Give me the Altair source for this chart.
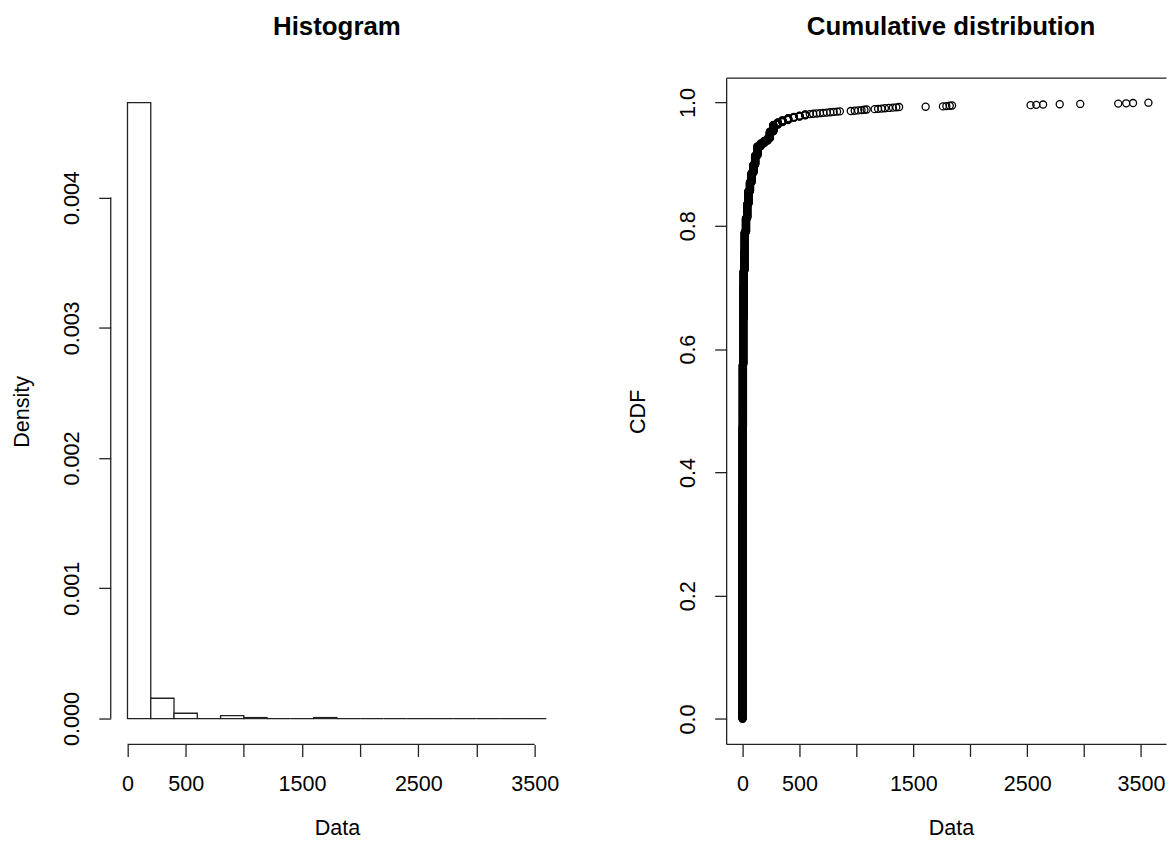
import altair as alt
import numpy as np
import pandas as pd

# ---------------- data ----------------
# Histogram: density per 200-wide bin
hist_bin_start = [0, 200, 400, 600, 800, 1000, 1200, 1400, 1600, 1800,
                  2000, 2200, 2400, 2600, 2800, 3000, 3200, 3400]
hist_density = [0.00473, 0.000156, 0.0000406, 0.0, 0.000023, 0.0000077, 0.0, 0.0,
                0.0000077, 0.0, 0.0, 0.0, 0.0, 0.0, 0.0, 0.0, 0.0, 0.0]

# Observed values and how many times each occurs (for the empirical CDF)
cdf_values = [0, 1, 2, 3, 5, 8, 11, 15, 20, 30, 40, 50, 65, 80, 95, 110, 130,
              160, 190, 220, 240, 270, 310, 350, 400, 450, 500, 550,
              590, 620, 650, 680, 710, 740, 770, 800, 830, 855,
              950, 985, 1015, 1045, 1070, 1090,
              1160, 1190, 1220, 1250, 1285, 1320, 1350, 1375,
              1608, 1760, 1790, 1820, 1840,
              2530, 2580, 2640, 2786, 2966, 3300, 3370, 3430, 3565]
cdf_counts = [400, 300, 250, 200, 150, 100, 54, 60, 66, 45, 45, 42, 30, 30, 26, 30, 30,
              10, 8, 8, 22, 22, 8, 7, 7, 4, 4, 4,
              1, 1, 1, 1, 1, 1, 1, 1, 1, 1,
              1, 1, 1, 1, 1, 1,
              1, 1, 1, 1, 1, 1, 1, 1,
              1, 1, 1, 1, 1,
              1, 1, 1, 1, 1, 1, 1, 1, 1]

x_ticks = [0, 500, 1000, 1500, 2000, 2500, 3000, 3500]
hist_y_ticks = [0.0, 0.001, 0.002, 0.003, 0.004]
cdf_y_ticks = [0.0, 0.2, 0.4, 0.6, 0.8, 1.0]

# ---------------- styling ----------------
FONT = "Liberation Sans"
FS = 21.6
TFS = 25.9
W_H = 453.5
W_C = 441
H = 668
LINE = "#222222"
LW = 1.3
hide_lbl = "(datum.value == 1000 || datum.value == 2000 || datum.value == 3000) ? '' : datum.label"

x_axis_common = dict(values=x_ticks, format="d", labelExpr=hide_lbl, title="Data",
                     labelBaseline="middle", labelAlign="center", labelPadding=28,
                     titleBaseline="alphabetic", titleAlign="center", titleY=90)
y_axis_common = dict(labelAngle=270, labelAlign="center", labelBaseline="middle",
                     labelPadding=26, titleAngle=270, titleAlign="center",
                     titleBaseline="middle", titleX=-88.5, titleY=H / 2)

# ---------------- histogram panel ----------------
hist_df = pd.DataFrame({"start": hist_bin_start, "density": hist_density})
hx = alt.Scale(domain=[-144, 3744], nice=False, zero=False)
hy = alt.Scale(domain=[-0.000199, 0.004917], nice=False, zero=False)

bars = alt.Chart(hist_df).transform_calculate(
    end="datum.start + 200"
).mark_rect(fill="white", stroke=LINE, strokeWidth=LW).encode(
    x=alt.X("start:Q", scale=hx, axis=alt.Axis(titleX=W_H / 2, **x_axis_common)),
    x2="end:Q",
    y=alt.Y("density:Q", scale=hy,
            axis=alt.Axis(values=hist_y_ticks, format=".3f", title="Density", **y_axis_common)),
    y2=alt.datum(0),
)

one = alt.Data(values=[{"a": 1}])
hist_xline = alt.Chart(one).mark_rule(color=LINE, strokeWidth=LW).encode(
    x=alt.datum(x_ticks[0]), x2=alt.datum(x_ticks[-1]), y=alt.value(H)
)
hist_yline = alt.Chart(one).mark_rule(color=LINE, strokeWidth=LW).encode(
    y=alt.datum(hist_y_ticks[0]), y2=alt.datum(hist_y_ticks[-1]), x=alt.value(0)
)
hist_title = alt.Chart(one).mark_text(
    text="Histogram", font=FONT, fontSize=TFS, fontWeight="bold",
    align="center", baseline="alphabetic", color="black"
).encode(x=alt.value(W_H / 2), y=alt.value(-43))

hist = alt.layer(bars, hist_xline, hist_yline, hist_title).properties(width=W_H, height=H)

# ---------------- cumulative distribution panel ----------------
cdf_df = pd.DataFrame({"value": np.repeat(cdf_values, cdf_counts)})
cx = alt.Scale(domain=[-140, 3724], nice=False, zero=False)
cy = alt.Scale(domain=[-0.0413, 1.0395], nice=False, zero=False)

points = alt.Chart(cdf_df).transform_window(
    rank="row_number()", sort=[alt.SortField("value", order="ascending")]
).transform_joinaggregate(
    n="count()"
).transform_calculate(
    cdf="(datum.rank - 0.5) / datum.n"
).mark_point(shape="circle", filled=False, size=50, stroke="black",
             strokeWidth=1.3, opacity=1).encode(
    x=alt.X("value:Q", scale=cx, axis=alt.Axis(titleX=225, **x_axis_common)),
    y=alt.Y("cdf:Q", scale=cy,
            axis=alt.Axis(values=cdf_y_ticks, format=".1f", title="CDF", **y_axis_common)),
)

box_top = alt.Chart(one).mark_rule(color=LINE, strokeWidth=LW).encode(
    x=alt.value(0), x2=alt.value(W_C), y=alt.value(0))
box_bottom = alt.Chart(one).mark_rule(color=LINE, strokeWidth=LW).encode(
    x=alt.value(0), x2=alt.value(W_C), y=alt.value(H))
box_left = alt.Chart(one).mark_rule(color=LINE, strokeWidth=LW).encode(
    x=alt.value(0), y=alt.value(0), y2=alt.value(H))
cdf_title = alt.Chart(one).mark_text(
    text="Cumulative distribution", font=FONT, fontSize=TFS, fontWeight="bold",
    align="center", baseline="alphabetic", color="black"
).encode(x=alt.value(225), y=alt.value(-43))

cdf = alt.layer(points, box_top, box_bottom, box_left, cdf_title).properties(width=W_C, height=H)

chart = alt.hconcat(hist, cdf, spacing=63.5).properties(
    padding={"left": 3, "top": 5.3, "right": 0, "bottom": 0},
    background="white",
).configure_view(stroke=None).configure_axis(
    labelFont=FONT, labelFontSize=FS, labelColor="black",
    titleFont=FONT, titleFontSize=FS, titleFontWeight="normal", titleColor="black",
    tickColor=LINE, tickWidth=LW, tickSize=12, domain=False, grid=False,
    labelOverlap=False,
)

chart.save("out.html", embed_options={"renderer": "svg", "actions": False})
